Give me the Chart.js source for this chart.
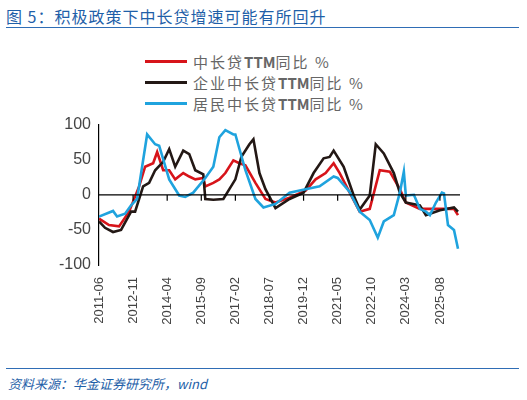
<!DOCTYPE html>
<html><head><meta charset="utf-8">
<script src="https://cdn.jsdelivr.net/npm/chart.js@4"></script>
<style>
body{margin:0;width:527px;height:400px;background:#fff;font-family:"Liberation Sans",Arial,sans-serif;position:relative;overflow:hidden}
#title{position:absolute;left:6px;top:4px;font-size:16px;color:#1f5fa8;font-family:"Noto Sans CJK SC",sans-serif;letter-spacing:1px}
#tline{position:absolute;left:6px;right:8px;top:27px;border-top:1.5px solid #2f6db5}
#bline{position:absolute;left:6px;right:8px;top:368px;border-top:1.5px solid #2f6db5}
#src{position:absolute;left:8px;top:374px;font-size:13px;color:#1f5fa8;font-style:italic;font-family:"Noto Sans CJK SC",sans-serif}
#legend{position:absolute;left:145px;top:51px;font-size:15px;color:#666;font-family:"Noto Sans CJK SC",sans-serif;letter-spacing:2px}
#legend div{height:21px;display:flex;align-items:center}
#legend span{display:inline-block;width:42px;height:3px;margin-right:6px}
#wrap{position:absolute;left:0;top:112px;width:527px;height:233px}
</style></head><body>
<div id="title">图 5：积极政策下中长贷增速可能有所回升</div>
<div id="tline"></div>
<div id="legend">
<div><span style="background:#d7141a"></span>中长贷<b style="letter-spacing:0">TTM</b>同比 %</div>
<div><span style="background:#231815"></span>企业中长贷<b style="letter-spacing:0">TTM</b>同比 %</div>
<div><span style="background:#1fa3de"></span>居民中长贷<b style="letter-spacing:0">TTM</b>同比 %</div>
</div>
<div id="wrap"><canvas id="c"></canvas></div>
<div id="bline"></div>
<div id="src">资料来源：华金证券研究所，wind</div>
<script>
const tickLabels = ["2011-06","2012-11","2014-04","2015-09","2017-02","2018-07","2019-12","2021-05","2022-10","2024-03","2025-08"];
// month index (from 2011-06), value
const totalPts = [[0,-34],[5,-43],[10,-45],[15,-24],[20,12],[23,40],[27,45],[29,61],[32,35],[35,35],[38,22],[42,31],[45,26],[48,22],[52,24],[53,12],[57,17],[60,22],[63,31],[67,49],[70,45],[73,42],[78,17],[83,-6],[88,-11],[95,-4],[103,6],[108,22],[113,31],[117,45],[120,31],[125,3],[130,-24],[135,-20],[140,35],[145,33],[150,8],[153,-11],[160,-20],[170,-20],[177,-20],[179,-29]];
const corpPts = [[0,-38],[3,-47],[7,-53],[11,-50],[16,-24],[18,-24],[22,12],[25,17],[28,35],[32,47],[35,65],[38,40],[42,63],[45,58],[48,35],[52,29],[53,-6],[57,-7],[62,-6],[65,8],[68,22],[71,54],[75,72],[77,79],[80,31],[83,8],[88,-19],[95,-6],[102,3],[107,31],[112,52],[115,54],[117,63],[122,40],[127,-1],[130,-21],[135,-1],[138,72],[142,59],[147,31],[150,3],[153,-11],[160,-15],[163,-29],[170,-22],[177,-18],[179,-24]];
const househPts = [[0,-31],[7,-23],[9,-31],[13,-27],[16,-15],[19,-6],[24,86],[28,72],[30,70],[35,22],[40,-1],[43,-3],[47,3],[53,24],[57,40],[60,82],[63,92],[67,86],[68,86],[73,35],[78,-6],[82,-18],[88,-13],[95,3],[103,8],[110,12],[117,26],[119,24],[125,4],[130,-24],[135,-36],[139,-61],[142,-38],[147,-29],[150,3],[152,33],[153,-1],[157,0],[160,-20],[163,-24],[165,-29],[168,-11],[171,3],[172,2],[174,-43],[177,-50],[179,-77]];

const toXY = a => a.map(p => ({x: p[0], y: p[1]}));
const ds = (data, color) => ({data: toXY(data), borderColor: color, borderWidth: 2.6, pointRadius: 0, fill: false, tension: 0});

const zeroTicks = {
  id: "zeroTicks",
  afterDatasetsDraw(chart) {
    const {ctx, scales: {x, y}} = chart;
    const y0 = y.getPixelForValue(0);
    ctx.save();
    ctx.strokeStyle = "#000"; ctx.lineWidth = 1.2;
    ctx.beginPath();
    ctx.moveTo(x.left, y0); ctx.lineTo(x.right, y0);
    for (let m = 17; m < 180; m += 17) {
      const px = x.getPixelForValue(m);
      ctx.moveTo(px, y0); ctx.lineTo(px, y0 + 6);
    }
    ctx.stroke();
    ctx.restore();
  }
};

new Chart(document.getElementById("c"), {
  type: "line",
  data: {datasets: [ds(househPts, "#1fa3de"), ds(corpPts, "#231815"), ds(totalPts, "#d7141a")]},
  options: {
    animation: false, responsive: true, maintainAspectRatio: false,
    layout: {padding: {top: 8, right: 67, left: 0, bottom: 0}},
    plugins: {legend: {display: false}, tooltip: {enabled: false}},
    scales: {
      x: {type: "linear", min: 0, max: 180,
        afterBuildTicks: s => { s.ticks = tickLabels.map((_, i) => ({value: i * 17})); },
        afterFit: s => { s.height = 80; },
        grid: {display: false, drawTicks: false}, border: {display: false},
        ticks: {color: "#444", font: {size: 13}, maxRotation: 90, minRotation: 90, padding: 12,
          callback: v => tickLabels[Math.round(v / 17)]}},
      y: {min: -100, max: 100,
        afterFit: s => { s.width = 99; },
        grid: {display: false, drawTicks: true, tickLength: 5, tickColor: "#000"},
        border: {display: true, color: "#000", width: 1.2},
        ticks: {stepSize: 50, color: "#444", font: {size: 16}, padding: 3}}
    }
  },
  plugins: [zeroTicks]
});
</script>
</body></html>
